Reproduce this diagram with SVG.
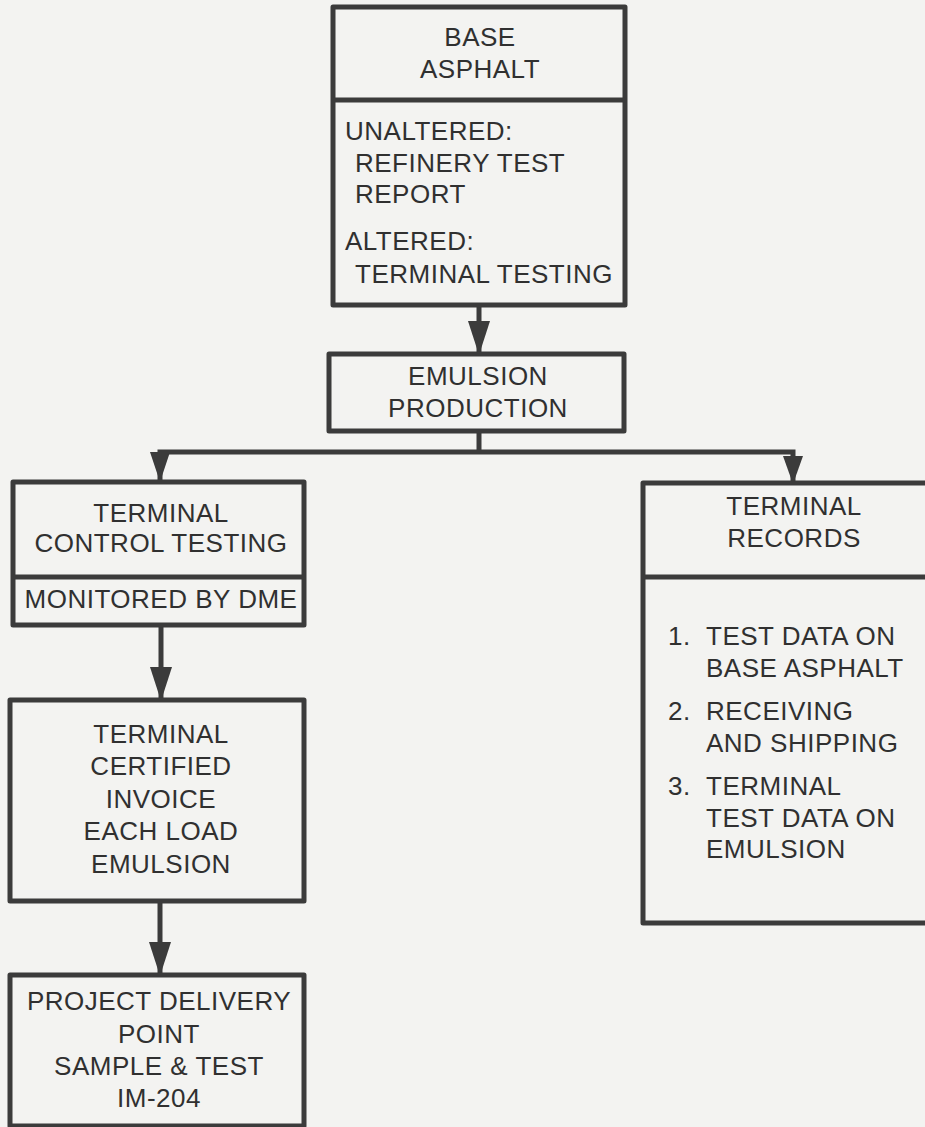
<svg xmlns="http://www.w3.org/2000/svg" width="925" height="1127" viewBox="0 0 925 1127">
<style>
.box{fill:none;stroke:#3b3b3b;stroke-width:5;stroke-linejoin:round}
.div{stroke:#3b3b3b;stroke-width:5}
.t{font-family:"Liberation Sans",Arial,sans-serif;font-size:26px;fill:#303030;letter-spacing:0.5px}
.c{text-anchor:middle}
.conn{fill:none;stroke:#3b3b3b;stroke-width:5}
</style>
<defs>
<marker id="ah2" markerUnits="userSpaceOnUse" markerWidth="34" markerHeight="22" refX="32" refY="11" orient="auto" viewBox="0 0 34 22">
<path d="M0,0 L34,11 L0,22 z" fill="#3b3b3b"/>
</marker>
</defs>
<rect width="925" height="1127" fill="#f3f3f1"/>
<g id="connectors">
<line class="conn" x1="479" y1="305" x2="479" y2="353" marker-end="url(#ah2)"/>
<polyline class="conn" points="479,431 479,452"/>
<polyline class="conn" points="160,482 160,452 793,452 793,483"/>
<polygon points="150,452 170,452 160,482" fill="#3b3b3b"/>
<polygon points="783,456 803,456 793,484" fill="#3b3b3b"/>
<line class="conn" x1="161" y1="625" x2="161" y2="699" marker-end="url(#ah2)"/>
<line class="conn" x1="160" y1="901" x2="160" y2="974" marker-end="url(#ah2)"/>
</g>
<g id="base-asphalt">
<rect class="box" x="333" y="7" width="292" height="298"/>
<line class="div" x1="333" y1="100" x2="625" y2="100"/>
<text class="t c" x="480" y="46">BASE</text>
<text class="t c" x="480" y="78">ASPHALT</text>
<text class="t" x="345" y="140">UNALTERED:</text>
<text class="t" x="355" y="172">REFINERY TEST</text>
<text class="t" x="355" y="203">REPORT</text>
<text class="t" x="345" y="250">ALTERED:</text>
<text class="t" x="355" y="283">TERMINAL TESTING</text>
</g>
<g id="emulsion-production">
<rect class="box" x="329" y="354" width="295" height="77"/>
<text class="t c" x="478" y="385">EMULSION</text>
<text class="t c" x="478" y="417">PRODUCTION</text>
</g>
<g id="terminal-control-testing">
<rect class="box" x="13" y="482" width="291" height="143"/>
<line class="div" x1="13" y1="577" x2="304" y2="577"/>
<text class="t c" x="161" y="522">TERMINAL</text>
<text class="t c" x="161" y="552">CONTROL TESTING</text>
<text class="t c" x="161" y="608">MONITORED BY DME</text>
</g>
<g id="terminal-certified-invoice">
<rect class="box" x="10" y="700" width="294" height="201"/>
<text class="t c" x="161" y="743">TERMINAL</text>
<text class="t c" x="161" y="775">CERTIFIED</text>
<text class="t c" x="161" y="808">INVOICE</text>
<text class="t c" x="161" y="840">EACH LOAD</text>
<text class="t c" x="161" y="873">EMULSION</text>
</g>
<g id="project-delivery-point">
<rect class="box" x="10" y="975" width="294" height="151"/>
<text class="t c" x="159" y="1010">PROJECT DELIVERY</text>
<text class="t c" x="159" y="1043">POINT</text>
<text class="t c" x="159" y="1075">SAMPLE &amp; TEST</text>
<text class="t c" x="159" y="1107">IM-204</text>
</g>
<g id="terminal-records">
<rect class="box" x="643" y="483" width="300" height="440"/>
<line class="div" x1="643" y1="577" x2="925" y2="577"/>
<text class="t c" x="794" y="515">TERMINAL</text>
<text class="t c" x="794" y="547">RECORDS</text>
<text class="t" x="668" y="645">1.</text>
<text class="t" x="706" y="645">TEST DATA ON</text>
<text class="t" x="706" y="677">BASE ASPHALT</text>
<text class="t" x="668" y="720">2.</text>
<text class="t" x="706" y="720">RECEIVING</text>
<text class="t" x="706" y="752">AND SHIPPING</text>
<text class="t" x="668" y="795">3.</text>
<text class="t" x="706" y="795">TERMINAL</text>
<text class="t" x="706" y="827">TEST DATA ON</text>
<text class="t" x="706" y="858">EMULSION</text>
</g>
</svg>
